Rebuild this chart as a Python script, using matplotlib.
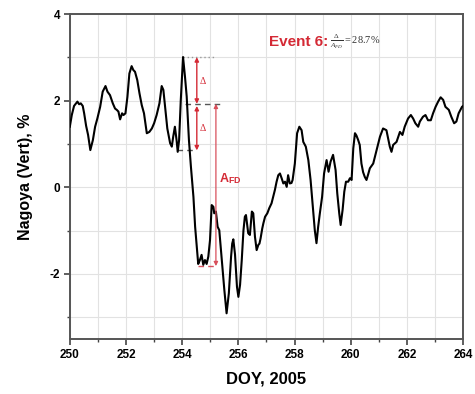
import matplotlib
matplotlib.use("Agg")
import matplotlib.pyplot as plt
from matplotlib.ticker import MultipleLocator

plt.rcParams["font.family"] = ["Liberation Sans", "DejaVu Sans"]
plt.rcParams["axes.unicode_minus"] = False
plt.rcParams["mathtext.fontset"] = "custom"
plt.rcParams["mathtext.rm"] = "Liberation Serif"
plt.rcParams["mathtext.it"] = "Liberation Serif:italic"
plt.rcParams["mathtext.bf"] = "Liberation Sans:bold"

# Nagoya vertical muon counts, relative variation (%) vs day of year
doy = [250.00, 250.07, 250.15, 250.22, 250.27, 250.33, 250.39, 250.46, 250.51, 250.58,
       250.65, 250.73, 250.82, 250.90, 250.98, 251.08, 251.17, 251.27, 251.34, 251.43,
       251.53, 251.61, 251.67, 251.73, 251.79, 251.86, 251.91, 251.98, 252.05, 252.12,
       252.20, 252.26, 252.32, 252.40, 252.48, 252.56, 252.64, 252.74, 252.83, 252.92,
       253.00, 253.09, 253.19, 253.27, 253.33, 253.39, 253.47, 253.57, 253.63, 253.68,
       253.74, 253.80, 253.84, 253.89, 253.95, 254.03, 254.10, 254.16, 254.24, 254.31,
       254.40, 254.46, 254.52, 254.57, 254.63, 254.69, 254.75, 254.81, 254.87, 254.93,
       254.99, 255.05, 255.11, 255.14, 255.20, 255.26, 255.32, 255.40, 255.50, 255.58,
       255.66, 255.74, 255.78, 255.82, 255.88, 255.95, 256.00, 256.06, 256.12, 256.18,
       256.23, 256.27, 256.35, 256.41, 256.48, 256.53, 256.59, 256.65, 256.71, 256.75,
       256.79, 256.85, 256.89, 256.95, 257.03, 257.10, 257.18, 257.24, 257.30, 257.36,
       257.42, 257.48, 257.54, 257.60, 257.66, 257.72, 257.77, 257.83, 257.89, 257.93,
       258.01, 258.09, 258.17, 258.25, 258.31, 258.40, 258.49, 258.57, 258.66, 258.72,
       258.78, 258.84, 258.90, 258.98, 259.05, 259.14, 259.21, 259.28, 259.37, 259.46,
       259.52, 259.59, 259.64, 259.71, 259.77, 259.83, 259.91, 259.97, 260.03, 260.09,
       260.15, 260.20, 260.26, 260.32, 260.38, 260.44, 260.50, 260.56, 260.62, 260.68,
       260.80, 260.92, 261.04, 261.15, 261.27, 261.39, 261.45, 261.51, 261.63, 261.75,
       261.84, 261.92, 262.04, 262.14, 262.22, 262.30, 262.40, 262.46, 262.57, 262.66,
       262.75, 262.85, 262.93, 263.02, 263.11, 263.20, 263.29, 263.37, 263.49, 263.58,
       263.68, 263.76, 263.84, 263.96, 264.00]
nagoya = [1.40, 1.67, 1.88, 1.94, 1.98, 1.92, 1.94, 1.88, 1.71, 1.42,
          1.21, 0.86, 1.09, 1.40, 1.59, 1.86, 2.21, 2.34, 2.21, 2.13,
          1.94, 1.82, 1.79, 1.75, 1.57, 1.71, 1.67, 1.71, 2.09, 2.63,
          2.80, 2.71, 2.67, 2.48, 2.17, 1.90, 1.71, 1.25, 1.28, 1.36,
          1.48, 1.67, 1.94, 2.34, 2.25, 1.86, 1.36, 1.02, 0.94, 1.17,
          1.40, 1.09, 0.82, 1.09, 2.02, 3.01, 2.55, 2.10, 1.09, 0.48,
          -0.22, -0.91, -1.37, -1.77, -1.68, -1.56, -1.79, -1.68, -1.77, -1.60,
          -1.22, -0.41, -0.45, -0.60, -0.56, -0.91, -0.99, -1.60, -2.37, -2.91,
          -2.45, -1.60, -1.30, -1.20, -1.55, -2.30, -2.53, -2.25, -1.68, -1.00,
          -0.68, -0.64, -1.06, -1.10, -0.56, -0.60, -1.14, -1.45, -1.33, -1.30,
          -1.18, -0.95, -0.83, -0.68, -0.60, -0.48, -0.37, -0.22, -0.06, 0.13,
          0.28, 0.32, 0.21, 0.09, 0.13, 0.01, 0.28, 0.09, 0.10, 0.17,
          0.55, 1.25, 1.40, 1.32, 1.05, 0.94, 0.63, 0.17, -0.52, -0.99,
          -1.29, -0.91, -0.60, -0.22, 0.32, 0.63, 0.36, 0.59, 0.75, 0.40,
          -0.14, -0.60, -0.87, -0.52, -0.10, 0.13, 0.13, 0.21, 0.17, 0.90,
          1.25, 1.20, 1.10, 0.98, 0.55, 0.35, 0.24, 0.17, 0.30, 0.44,
          0.55, 0.86, 1.17, 1.36, 1.32, 0.94, 0.82, 0.98, 1.05, 1.28,
          1.21, 1.40, 1.59, 1.67, 1.59, 1.48, 1.40, 1.52, 1.63, 1.67,
          1.55, 1.55, 1.71, 1.86, 1.98, 2.08, 2.02, 1.86, 1.79, 1.63,
          1.48, 1.52, 1.71, 1.86, 1.88]

# Forbush decrease of event 6: onset level, minimum, and delta / A_FD ratio (%)
onset_level = 1.93
fd_min_level = -1.82
event_ratio = 28.7
a_fd = onset_level - fd_min_level
delta = a_fd * event_ratio / 100
peak_level = onset_level + delta
pre_drop_level = onset_level - delta

red = "#d42a35"
pink = "#d8505c"

fig = plt.figure(figsize=(4.75, 3.94), dpi=100)
ax = fig.add_axes([0.147, 0.14, 0.828, 0.824])

ax.plot(doy, nagoya, color="black", lw=1.5, zorder=3)

ax.set_xlim(250, 264)
ax.set_ylim(-3.5, 4)
ax.xaxis.set_major_locator(MultipleLocator(2))
ax.xaxis.set_minor_locator(MultipleLocator(1))
ax.yaxis.set_major_locator(MultipleLocator(2))
ax.yaxis.set_minor_locator(MultipleLocator(1))
ax.grid(which="both", color="#e2e2e2", lw=0.8, zorder=0)
ax.tick_params(which="major", direction="out", length=4, width=1.2, color="#444444",
               labelsize=8.5, pad=3)
ax.tick_params(which="minor", direction="out", length=2.5, width=1.0, color="#444444")
for lbl in ax.get_xticklabels() + ax.get_yticklabels():
    lbl.set_fontweight("bold")
for sp in ax.spines.values():
    sp.set_color("#555555")
    sp.set_linewidth(1.4)

ax.set_xlabel("DOY, 2005", fontsize=12, fontweight="bold", labelpad=8)
ax.set_ylabel("Nagoya (Vert), %", fontsize=11.5, fontweight="bold", labelpad=12)

# reference levels
ax.plot([254.02, 255.17], [peak_level, peak_level], ls=(0, (1, 2)), color="#999999", lw=1)
ax.plot([254.1, 255.4], [onset_level, onset_level], ls=(0, (4, 3)), color="#555555", lw=1)
ax.plot([253.8, 254.5], [pre_drop_level, pre_drop_level], ls=(0, (4, 3)), color="#555555", lw=1)
ax.plot([254.57, 255.23], [fd_min_level, fd_min_level], ls=(0, (4, 3)), color=pink, lw=1)

arrow = dict(arrowstyle="<|-|>", color=red, lw=1.0, mutation_scale=6, shrinkA=0, shrinkB=0)
ax.annotate("", xy=(254.52, peak_level), xytext=(254.52, onset_level), arrowprops=arrow)
ax.annotate("", xy=(254.52, onset_level - 0.05), xytext=(254.52, pre_drop_level),
            arrowprops=arrow)
ax.text(254.6, peak_level - delta / 2, r"$\Delta$", color=red, fontsize=7, va="center")
ax.text(254.6, onset_level - delta / 2, r"$\Delta$", color=red, fontsize=7, va="center")

arrow_fd = dict(arrowstyle="<|-|>", color=pink, lw=0.9, mutation_scale=6, shrinkA=0, shrinkB=0)
ax.annotate("", xy=(255.2, onset_level), xytext=(255.2, fd_min_level), arrowprops=arrow_fd)
ax.text(255.3, 0.2, r"$\mathbf{A}_{\mathbf{FD}}$", color=red, fontsize=9, va="center")

ax.text(257.1, 3.36, "Event 6:", color=red, fontsize=11, fontweight="bold", va="center")
ax.text(259.25, 3.36, r"$\frac{\Delta}{A_{FD}} = %.1f\%%$" % event_ratio,
        color="#333333", fontsize=7.5, va="center")

fig.savefig("out.png", dpi=100)
